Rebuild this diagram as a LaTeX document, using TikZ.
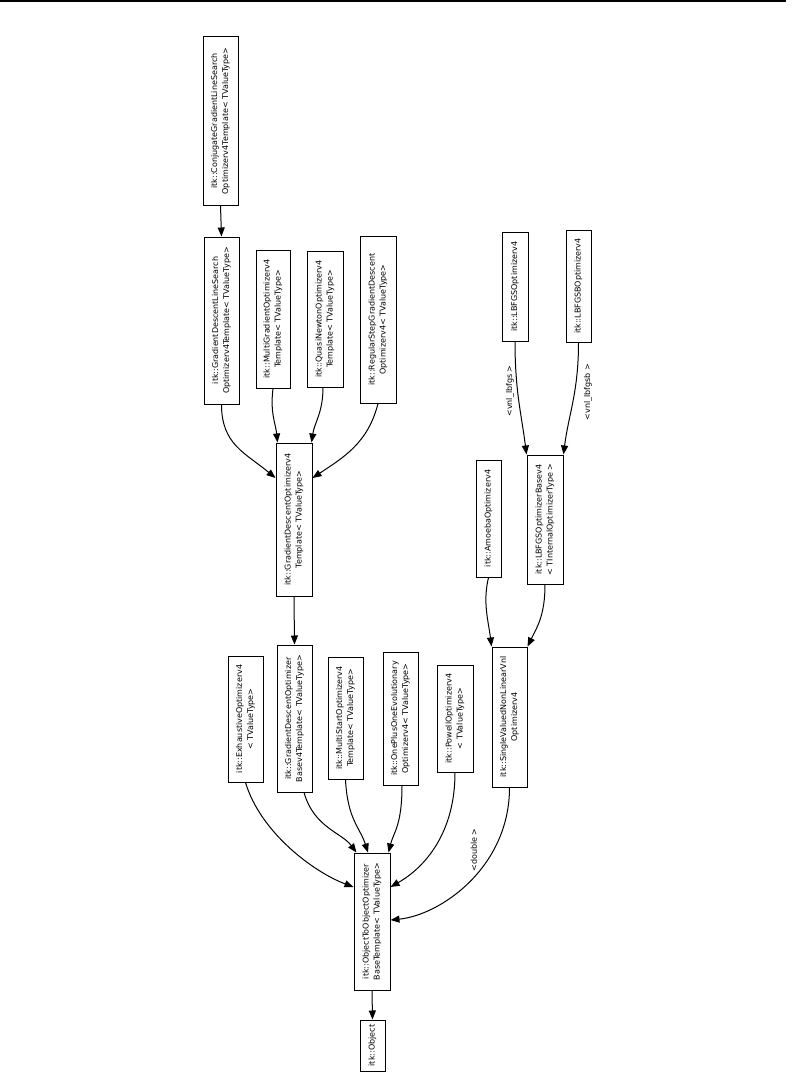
\documentclass[tikz,border=0pt]{standalone}
\usepackage{fontspec}
\newfontfamily\dvsans{DejaVu Sans}
\usetikzlibrary{arrows.meta}

\begin{document}
\begin{tikzpicture}[x=1pt, y=-1pt, >={Triangle[length=9pt,width=7pt]},
        font=\dvsans\fontsize{8}{11}\selectfont,
        cls/.style 2 args={draw, line width=1pt, rotate=90, align=center, inner sep=0pt,
            minimum width=#1, minimum height=#2},
        inh/.style={->, line width=1pt},
        tmpl/.style={rotate=90, inner sep=1pt}]
    \useasboundingbox (0,0) rectangle (794,1081);
    \draw[line width=2pt] (0,1) -- (786,1);

    \node[cls={168pt}{35pt}] (conj) at (220.5,121) {itk::ConjugateGradientLineSearch\\Optimizerv4Template< TValueType>};
    \node[cls={167pt}{35pt}] (gdls) at (221.5,320.5) {itk::GradientDescentLineSearch\\Optimizerv4Template< TValueType>};
    \node[cls={138pt}{34pt}] (mg) at (273,319) {itk::MultiGradientOptimizerv4\\Template< TValueType>};
    \node[cls={136pt}{36pt}] (qn) at (325,319) {itk::QuasiNewtonOptimizerv4\\Template< TValueType>};
    \node[cls={167pt}{36pt}] (rs) at (378,319.5) {itk::RegularStepGradientDescent\\Optimizerv4< TValueType>};
    \node[cls={153pt}{36pt}] (gdt) at (294,519.5) {itk::GradientDescentOptimizerv4\\Template< TValueType>};
    \node[cls={109pt}{26pt}] (lb) at (515,286.5) {itk::LBFGSOptimizerv4};
    \node[cls={112pt}{25pt}] (lbs) at (578.5,286) {itk::LBFGSBOptimizerv4};
    \node[cls={117pt}{25pt}] (am) at (488.5,518.5) {itk::AmoebaOptimizerv4};
    \node[cls={129pt}{36pt}] (lbb) at (545,519.5) {itk::LBFGSOptimizerBasev4\\< TInternalOptimizerType >};
    \node[cls={126pt}{35pt}] (ex) at (245.5,719) {itk::ExhaustiveOptimizerv4\\< TValueType>};
    \node[cls={147pt}{35pt}] (gdb) at (294.5,718.5) {itk::GradientDescentOptimizer\\Basev4Template< TValueType>};
    \node[cls={122pt}{35pt}] (ms) at (345.5,718) {itk::MultiStartOptimizerv4\\Template< TValueType>};
    \node[cls={133pt}{35pt}] (op) at (400.5,718.5) {itk::OnePlusOneEvolutionary\\Optimizerv4< TValueType>};
    \node[cls={107pt}{36pt}] (pw) at (455,718.5) {itk::PowellOptimizerv4\\< TValueType>};
    \node[cls={140pt}{35pt}] (sv) at (509.5,717) {itk::SingleValuedNonLinearVnl\\Optimizerv4};
    \node[cls={137pt}{36pt}] (oto) at (372,921.5) {itk::ObjectToObjectOptimizer\\BaseTemplate< TValueType>};
    \node[cls={51pt}{25pt}] (obj) at (372.5,1045.5) {itk::Object};

    \draw[inh] (conj.west) -- (gdls.east);
    \draw[inh] (gdls.west) .. controls +(0,40) and +(-30,-25) .. ([yshift=41.5pt]gdt.north);
    \draw[inh] (mg.west) .. controls +(-3,25) and +(-2,-20) .. ([xshift=2pt]gdt.north east);
    \draw[inh] ([xshift=-2pt]qn.west) .. controls +(0,25) and +(3,-20) .. ([xshift=-1pt]gdt.south east);
    \draw[inh] (rs.west) .. controls +(-10,40) and +(30,-20) .. ([yshift=41.5pt]gdt.south);
    \draw[inh] (gdt.west) -- (gdb.east);

    \draw[inh] (lb.west) .. controls +(0,50) and +(-5,-40) .. (lbb.north east);
    \draw[inh] (lbs.west) .. controls +(0,50) and +(5,-40) .. (lbb.south east);
    \node[tmpl] (tlbfgs) at (510,391) {<vnl\_lbfgs >};
    \node[tmpl] (tlbfgsb) at (588,392) {<vnl\_lbfgsb >};
    \draw[inh] (am.west) .. controls +(-6,25) and +(-3,-25) .. (sv.north east);
    \draw[inh] (lbb.west) .. controls +(0,30) and +(10,-20) .. (sv.south east);

    \draw[inh] (ex.west) .. controls +(15,50) and +(-40,-15) .. ([yshift=34.5pt]oto.north);
    \draw[inh] ([xshift=9.5pt]gdb.west) .. controls +(10,35) and +(-15,-20) .. ([xshift=3pt]oto.north east);
    \draw[inh] (ms.west) .. controls +(2,40) and +(-8,-25) .. ([xshift=-4pt]oto.east);
    \draw[inh] ([xshift=1.5pt]op.west) .. controls +(0,40) and +(5,-20) .. ([xshift=-2pt]oto.south east);
    \draw[inh] (pw.west) .. controls +(0,60) and +(35,-20) .. ([yshift=34.5pt]oto.south);
    \draw[inh] (sv.west) .. controls +(0,80) and +(50,-5) .. ([yshift=1.5pt]oto.south);
    \node[tmpl] (tdouble) at (474,850) {<double >};
    \draw[inh] (oto.west) -- (obj.east);
\end{tikzpicture}
\end{document}
